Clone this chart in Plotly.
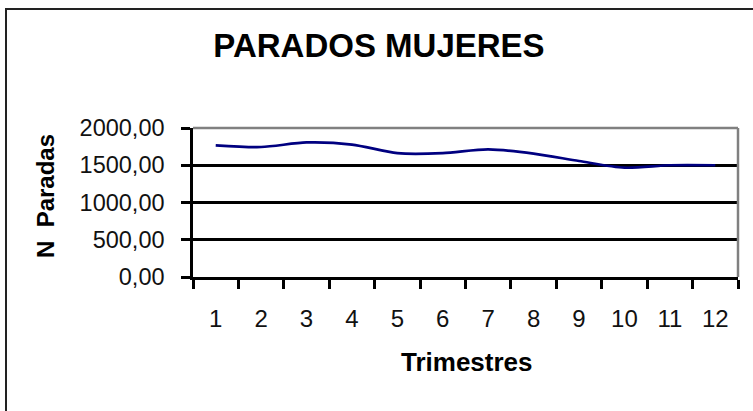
import plotly.graph_objects as go

# ---- data ----
trimestres = ["1", "2", "3", "4", "5", "6", "7", "8", "9", "10", "11", "12"]
paradas = [1768, 1745, 1806, 1778, 1662, 1662, 1712, 1656, 1557, 1467, 1500, 1500]
y_ticks = [0, 500, 1000, 1500, 2000]

W, H = 753, 411
# plot-area pixel box
PL, PR, PT, PB = 193, 738, 128, 277


def px_x(x):
    return (x - PL) / (PR - PL)


def px_y(y):
    return (PB - y) / (PB - PT)


FONT = "Liberation Sans, Arial, Helvetica, sans-serif"

fig = go.Figure()
fig.add_trace(go.Scatter(
    x=trimestres, y=paradas, mode="lines",
    line=dict(color="#000080", width=2.7, shape="spline", smoothing=0.8),
    showlegend=False, hoverinfo="x+y",
))

fig.update_layout(
    width=W, height=H,
    margin=dict(l=PL, r=W - PR, t=PT, b=H - PB, pad=0),
    paper_bgcolor="white", plot_bgcolor="white",
    separators=",.",
    font=dict(family=FONT, color="black"),
    title=dict(text="<b>PARADOS MUJERES</b>", xref="container", yref="container",
               x=379 / W, y=1 - 45 / H, xanchor="center", yanchor="middle",
               font=dict(size=33, family=FONT, color="black")),
    showlegend=False,
)

fig.update_xaxes(
    type="category", range=[-0.5, 11.5], tickson="boundaries",
    showline=True, linecolor="black", linewidth=2.5,
    ticks="outside", ticklen=9, tickwidth=2.5, tickcolor="black",
    tickfont=dict(size=24, family=FONT, color="#111"),
    ticklabelstandoff=18,
    showgrid=False, zeroline=False, fixedrange=True,
)
fig.update_yaxes(
    range=[0, 2000], tickmode="array", tickvals=y_ticks, tickformat=".2f",
    showline=True, linecolor="black", linewidth=2.5,
    ticks="outside", ticklen=9, tickwidth=2.5, tickcolor="black",
    tickfont=dict(size=23.5, family=FONT, color="#111"),
    ticklabelstandoff=12,
    showgrid=True, gridcolor="black", gridwidth=2.5,
    zeroline=False, fixedrange=True,
)

# axis titles
fig.add_annotation(text="<b>Trimestres</b>", xref="paper", yref="paper",
                   x=px_x(467), y=px_y(362), xanchor="center", yanchor="middle",
                   showarrow=False, font=dict(size=26, family=FONT, color="black"))
fig.add_annotation(text="<b>N\u00a0 Paradas</b>", xref="paper", yref="paper",
                   x=px_x(45), y=px_y(196), xanchor="center", yanchor="middle",
                   textangle=-90, showarrow=False,
                   font=dict(size=24, family=FONT, color="black"))

# gray top/right plot border
fig.add_shape(type="line", xref="paper", yref="paper", x0=0, x1=1, y0=1, y1=1,
              line=dict(color="#808080", width=2.5), layer="above")
fig.add_shape(type="line", xref="paper", yref="paper", x0=1, x1=1, y0=0, y1=1,
              line=dict(color="#808080", width=2.5), layer="above")
# outer chart frame
fig.add_shape(type="rect", xref="paper", yref="paper",
              x0=px_x(6), x1=px_x(780), y0=px_y(9), y1=px_y(440),
              line=dict(color="#222", width=2), layer="below")

# remove the default page margin so the figure sits at the window's top-left
fig.write_html("out.html", config={"displayModeBar": False},
               post_script="document.body.style.margin='0';")
